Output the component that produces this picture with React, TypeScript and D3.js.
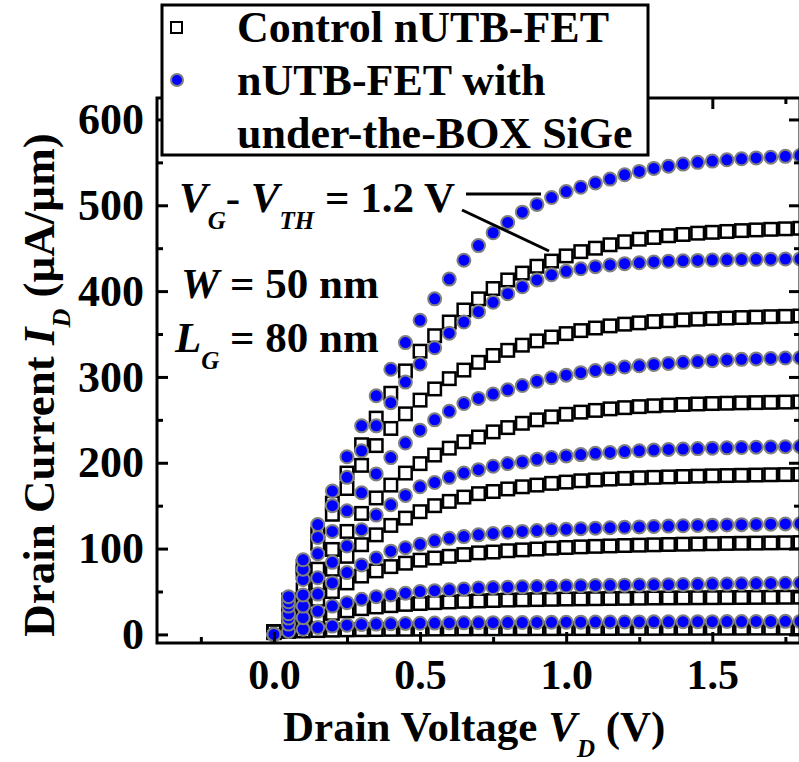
import React, { useRef, useEffect } from 'react';
import * as d3 from 'd3';

// drain voltage sweep (V)
const vd = [0, 0.05, 0.1, 0.15, 0.2, 0.25, 0.3, 0.35, 0.4, 0.45, 0.5, 0.55, 0.6, 0.65, 0.7, 0.75, 0.8, 0.85, 0.9,
    0.95, 1.0, 1.05, 1.1, 1.15, 1.2, 1.25, 1.3, 1.35, 1.4, 1.45, 1.5, 1.55, 1.6, 1.65, 1.7, 1.75, 1.8];

// Control nUTB-FET, I_D in uA/um, one array per gate overdrive (top curve = 1.2 V)
const ctrl1 = [3, 40, 79, 117, 153, 188, 221, 252, 281, 307, 330, 348, 364, 378, 391, 403, 413, 421, 429, 435, 441,
    446, 450, 454, 457.5, 460.5, 462.5, 464.5, 466, 467.5, 468.5, 469.5, 470.5, 471.3, 472, 472.6, 473.2];
const ctrl2 = [3, 36, 72, 106, 140, 170, 197, 220, 240, 257, 273, 286, 298, 308, 317, 325, 331, 337, 342, 346.5,
    350.5, 354, 357, 359.5, 361.5, 363, 364.5, 365.5, 366.5, 367.3, 368, 368.6, 369.2, 369.7, 370.2, 370.6, 371];
const ctrl3 = [3, 26, 52, 76, 99, 120, 141, 159, 174, 188, 199, 209, 217, 224.5, 230, 236, 241, 246, 250, 253.5,
    256.5, 259, 261, 262.8, 264.2, 265.4, 266.4, 267.2, 267.9, 268.5, 269, 269.4, 269.8, 270.1, 270.4, 270.7, 271];
const ctrl4 = [3, 20, 40, 60, 76, 91, 104.5, 116, 127, 135.5, 143, 150, 155, 160, 164, 166.5, 169.5, 172, 174, 176,
    177.5, 179, 180, 181, 181.8, 182.5, 183, 183.5, 184, 184.4, 184.8, 185.1, 185.4, 185.7, 186, 186.2, 186.4];
const ctrl5 = [3, 15.5, 29, 41, 50, 60, 68, 74, 79, 83, 86.5, 89, 91, 93, 95, 96, 97.5, 98.5, 99.5, 100.5, 101.3,
    102, 102.6, 103.1, 103.6, 104, 104.4, 104.8, 105.1, 105.4, 105.7, 106, 106.2, 106.4, 106.6, 106.8, 107];
const ctrl6 = [3, 9, 17, 21, 24.5, 27.5, 30, 32, 33.5, 35, 36, 37, 37.8, 38.5, 39, 39.5, 40, 40.3, 40.6, 40.9, 41.2,
    41.4, 41.6, 41.8, 42, 42.2, 42.4, 42.5, 42.6, 42.7, 42.8, 42.9, 43, 43.1, 43.2, 43.3, 43.4];
const ctrl7 = [2, 3.5, 4, 4.5, 5, 5.3, 5.5, 5.7, 5.9, 6, 6.1, 6.2, 6.3, 6.4, 6.5, 6.5, 6.6, 6.6, 6.7, 6.7, 6.8,
    6.8, 6.9, 6.9, 7, 7, 7, 7.1, 7.1, 7.1, 7.2, 7.2, 7.2, 7.3, 7.3, 7.3, 7.4];

// nUTB-FET with under-the-BOX SiGe
const sige1 = [0, 44, 87, 128, 167, 207, 243, 278, 309, 340, 366, 391, 414, 436, 453, 468, 480, 492, 501, 509, 516,
    521, 526, 530.5, 535.5, 539.5, 543, 545.5, 548, 550, 551.5, 553, 554.2, 555.2, 556, 557, 558];
const sige2 = [0, 38, 76, 113, 150, 183, 214, 243, 270, 294, 315, 334, 351, 364, 376, 387, 397, 405, 413, 419, 423,
    426, 428.5, 430.5, 432, 433, 434, 434.8, 435.3, 435.8, 436.2, 436.5, 436.8, 437, 437.2, 437.4, 437.5];
const sige3 = [0, 33, 64, 94, 120, 144, 165, 187, 206, 223, 238, 250, 260, 269, 275, 280, 285, 290, 295, 299, 302,
    305, 307.5, 309.5, 311.5, 313, 314.5, 315.8, 317, 318, 319, 319.8, 320.5, 321, 321.5, 322, 322.5];
const sige4 = [0, 24, 46, 66, 84, 103, 122, 139, 151, 162, 172, 177, 183, 188, 192, 196, 199, 201, 204, 206, 208,
    209.5, 211, 212, 213, 214, 214.8, 215.5, 216, 216.5, 217, 217.4, 217.8, 218.1, 218.4, 218.7, 219];
const sige5 = [0, 19, 33, 47, 60, 72, 81, 89, 97, 101, 105, 109, 112, 114, 116, 117.5, 119, 120, 121, 122, 122.5,
    123.2, 123.8, 124.3, 124.8, 125.3, 125.8, 126.2, 126.6, 127, 127.3, 127.6, 127.9, 128.2, 128.5, 128.7, 129];
const sige6 = [0, 12, 19.5, 27, 33, 37, 41, 44, 46, 48, 50, 51, 52, 53, 54, 54.6, 55, 55.4, 55.8, 56.1, 56.4,
    56.7, 57, 57.2, 57.4, 57.6, 57.8, 58, 58.2, 58.4, 58.6, 58.8, 59, 59.2, 59.4, 59.6, 59.8];
const sige7 = [0, 3.5, 6, 8, 9.7, 10.8, 11.6, 12, 12.4, 12.8, 13, 13.2, 13.4, 13.5, 13.6, 13.7, 13.8, 13.9, 14,
    14.1, 14.2, 14.3, 14.4, 14.5, 14.5, 14.6, 14.7, 14.7, 14.8, 14.9, 14.9, 15, 15, 15.1, 15.1, 15.2, 15.2];

const ctrlSeries = [ctrl7, ctrl6, ctrl5, ctrl4, ctrl3, ctrl2, ctrl1];
const sigeSeries = [sige7, sige6, sige5, sige4, sige3, sige2, sige1];

const xTicks = [0, 0.5, 1.0, 1.5];
const xMinorTicks = [-0.25, 0.25, 0.75, 1.25, 1.75];
const yTicks = [0, 100, 200, 300, 400, 500, 600];
const yMinorTicks = [50, 150, 250, 350, 450, 550];

const legendLabels = ['Control nUTB-FET', 'nUTB-FET with', 'under-the-BOX SiGe'];

const FONT = "'Liberation Serif', 'Times New Roman', serif";
const BLUE = '#0000ff';
const GREY = '#808080';

const App = () => {
    const plotRef = useRef(null);

    useEffect(() => {
        const g = d3.select(plotRef.current);
        g.selectAll('*').remove();

        const left = 157, right = 800, top = 98, bottom = 643;
        const x = d3.scaleLinear().domain([-0.4, 1.8]).range([left, right]);
        const y = d3.scaleLinear().domain([-10, 625]).range([bottom, top]);

        // control devices: open squares
        const side = 12.5;
        ctrlSeries.forEach(s => {
            g.append('g')
                .selectAll('rect')
                .data(vd.map((v, i) => [v, s[i]]))
                .join('rect')
                .attr('x', d => x(d[0]) - side / 2)
                .attr('y', d => y(d[1]) - side / 2)
                .attr('width', side)
                .attr('height', side)
                .attr('fill', 'white')
                .attr('stroke', 'black')
                .attr('stroke-width', 2.5);
        });

        // SiGe devices: blue circles, grey edge
        sigeSeries.forEach(s => {
            g.append('g')
                .selectAll('circle')
                .data(vd.map((v, i) => [v, s[i]]))
                .join('circle')
                .attr('cx', d => x(d[0]))
                .attr('cy', d => y(d[1]))
                .attr('r', 6.5)
                .attr('fill', BLUE)
                .attr('stroke', GREY)
                .attr('stroke-width', 2);
        });

        const styleAxis = sel => {
            sel.select('.domain').remove();
            sel.selectAll('line').attr('stroke', 'black').attr('stroke-width', 3);
            sel.attr('font-family', FONT).attr('font-weight', 'bold');
        };

        // bottom axis with labels
        g.append('g')
            .attr('transform', `translate(0,${bottom})`)
            .call(d3.axisBottom(x).tickValues(xTicks).tickSize(-11).tickPadding(16).tickFormat(d3.format('.1f')))
            .call(styleAxis)
            .attr('font-size', 42);
        g.append('g')
            .attr('transform', `translate(0,${bottom})`)
            .call(d3.axisBottom(x).tickValues(xMinorTicks).tickSize(-6).tickFormat(() => ''))
            .call(styleAxis);

        // top axis, ticks only
        g.append('g')
            .attr('transform', `translate(0,${top})`)
            .call(d3.axisTop(x).tickValues(xTicks).tickSize(-11).tickFormat(() => ''))
            .call(styleAxis);
        g.append('g')
            .attr('transform', `translate(0,${top})`)
            .call(d3.axisTop(x).tickValues(xMinorTicks).tickSize(-6).tickFormat(() => ''))
            .call(styleAxis);

        // left axis with labels
        g.append('g')
            .attr('transform', `translate(${left},0)`)
            .call(d3.axisLeft(y).tickValues(yTicks).tickSize(-11).tickPadding(13))
            .call(styleAxis)
            .attr('font-size', 44);
        g.append('g')
            .attr('transform', `translate(${left},0)`)
            .call(d3.axisLeft(y).tickValues(yMinorTicks).tickSize(-6).tickFormat(() => ''))
            .call(styleAxis);

        // right axis, ticks only
        g.append('g')
            .attr('transform', `translate(${right},0)`)
            .call(d3.axisRight(y).tickValues(yTicks).tickSize(-11).tickFormat(() => ''))
            .call(styleAxis);
        g.append('g')
            .attr('transform', `translate(${right},0)`)
            .call(d3.axisRight(y).tickValues(yMinorTicks).tickSize(-6).tickFormat(() => ''))
            .call(styleAxis);

        // frame
        g.append('rect')
            .attr('x', left)
            .attr('y', top)
            .attr('width', right - left)
            .attr('height', bottom - top)
            .attr('fill', 'none')
            .attr('stroke', 'black')
            .attr('stroke-width', 3);
    }, []);

    return (
        <div style={{ position: 'absolute', left: 0, top: 0 }}>
            <svg width={799} height={762} style={{ display: 'block' }} fontFamily={FONT} fontWeight="bold">
                <rect width={799} height={762} fill="white" />
                <g ref={plotRef}></g>

                {/* annotations */}
                <text x={179} y={212} fontSize={43}>
                    <tspan fontStyle="italic">V</tspan>
                    <tspan fontStyle="italic" fontSize={25} dy={17}>G</tspan>
                    <tspan dy={-17}>- </tspan>
                    <tspan fontStyle="italic">V</tspan>
                    <tspan fontStyle="italic" fontSize={25} dy={17}>TH</tspan>
                    <tspan dy={-17}> = 1.2 V</tspan>
                </text>
                <line x1={466} y1={194} x2={541} y2={194} stroke="black" strokeWidth={3} />
                <line x1={462} y1={210} x2={549} y2={251} stroke="black" strokeWidth={3} />

                <text x={181} y={298} fontSize={43}>
                    <tspan fontStyle="italic">W</tspan>
                    <tspan> = 50 nm</tspan>
                </text>
                <text x={175} y={352} fontSize={43}>
                    <tspan fontStyle="italic">L</tspan>
                    <tspan fontStyle="italic" fontSize={25} dy={17}>G</tspan>
                    <tspan dy={-17}> = 80 nm</tspan>
                </text>

                {/* axis titles */}
                <text x={283} y={741} fontSize={43}>
                    Drain Voltage <tspan fontStyle="italic">V</tspan>
                    <tspan fontStyle="italic" fontSize={25} dy={16}>D</tspan>
                    <tspan dy={-16}> (V)</tspan>
                </text>
                <text transform="translate(54,385) rotate(-90)" textAnchor="middle" fontSize={45}>
                    Drain Current <tspan fontStyle="italic">I</tspan>
                    <tspan fontStyle="italic" fontSize={26} dy={16}>D</tspan>
                    <tspan dy={-16}> (µA/µm)</tspan>
                </text>

                {/* legend */}
                <rect x={162} y={5} width={486} height={150} fill="white" stroke="black" strokeWidth={3} />
                <rect x={171} y={22} width={11} height={11} fill="white" stroke="black" strokeWidth={2} />
                <circle cx={177} cy={80} r={6} fill={BLUE} stroke={GREY} strokeWidth={2} />
                {legendLabels.map((t, i) => (
                    <text key={t} x={237} y={42 + i * 53} fontSize={44}>{t}</text>
                ))}
            </svg>
        </div>
    );
};

export default App;
